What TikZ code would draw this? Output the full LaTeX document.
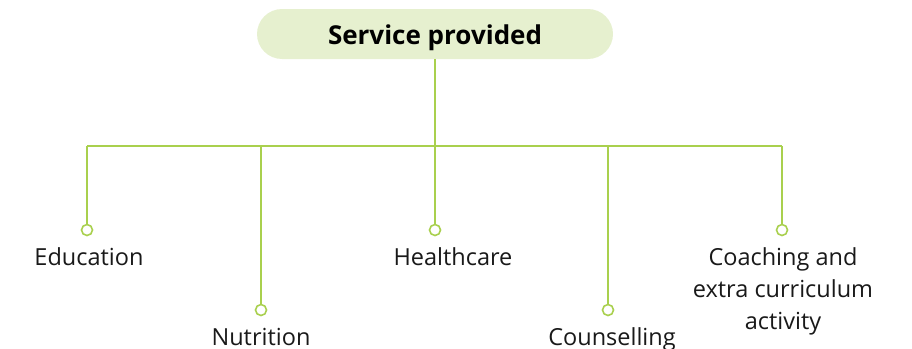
\documentclass[tikz,border=0pt]{standalone}
\usepackage{fontspec}
\setmainfont{Open Sans}
\definecolor{lineg}{HTML}{A9D04E}
\definecolor{boxg}{HTML}{E6F0CF}
\begin{document}
\begin{tikzpicture}[x=1pt,y=-1pt,
  conn/.style={draw=lineg,line width=1.6pt},
  dot/.style={circle,draw=lineg,line width=1.6pt,fill=white,minimum size=11pt,inner sep=0pt},
  lbl/.style={font=\fontsize{23.5}{32}\selectfont,align=center,inner sep=0pt,text=black!90},
  title/.style={rounded corners=25pt,fill=boxg,minimum width=356pt,minimum height=50pt,text height=21pt,text depth=0pt,font=\fontsize{26}{30}\selectfont\bfseries,inner sep=0pt}]
\useasboundingbox (0,0) rectangle (912,348);
\node[title] (top) at (435,34) {Service provided};
\coordinate (hub) at (435,146);
\coordinate (hl) at (87,146);
\coordinate (hn) at (261,146);
\coordinate (hc) at (608,146);
\coordinate (hr) at (782,146);
\node[dot] (d1) at (87,230) {};
\node[dot] (d2) at (261,310) {};
\node[dot] (d3) at (435,230) {};
\node[dot] (d4) at (608,310) {};
\node[dot] (d5) at (782,230) {};
\draw[conn] (top.south) -- (hub);
\draw[conn] (hl) -- (hr);
\draw[conn] (hl) -- (d1);
\draw[conn] (hn) -- (d2);
\draw[conn] (hub) -- (d3);
\draw[conn] (hc) -- (d4);
\draw[conn] (hr) -- (d5);
\node[lbl,anchor=base] (l1) at (89,265) {Education};
\node[lbl,anchor=base] (l2) at (261,345) {Nutrition};
\node[lbl,anchor=base] (l3) at (453,265) {Healthcare};
\node[lbl,anchor=base] (l4) at (612,345) {Counselling};
\node[lbl,anchor=north] (l5) at (783,247) {Coaching and\\extra curriculum\\activity};
\end{tikzpicture}
\end{document}
